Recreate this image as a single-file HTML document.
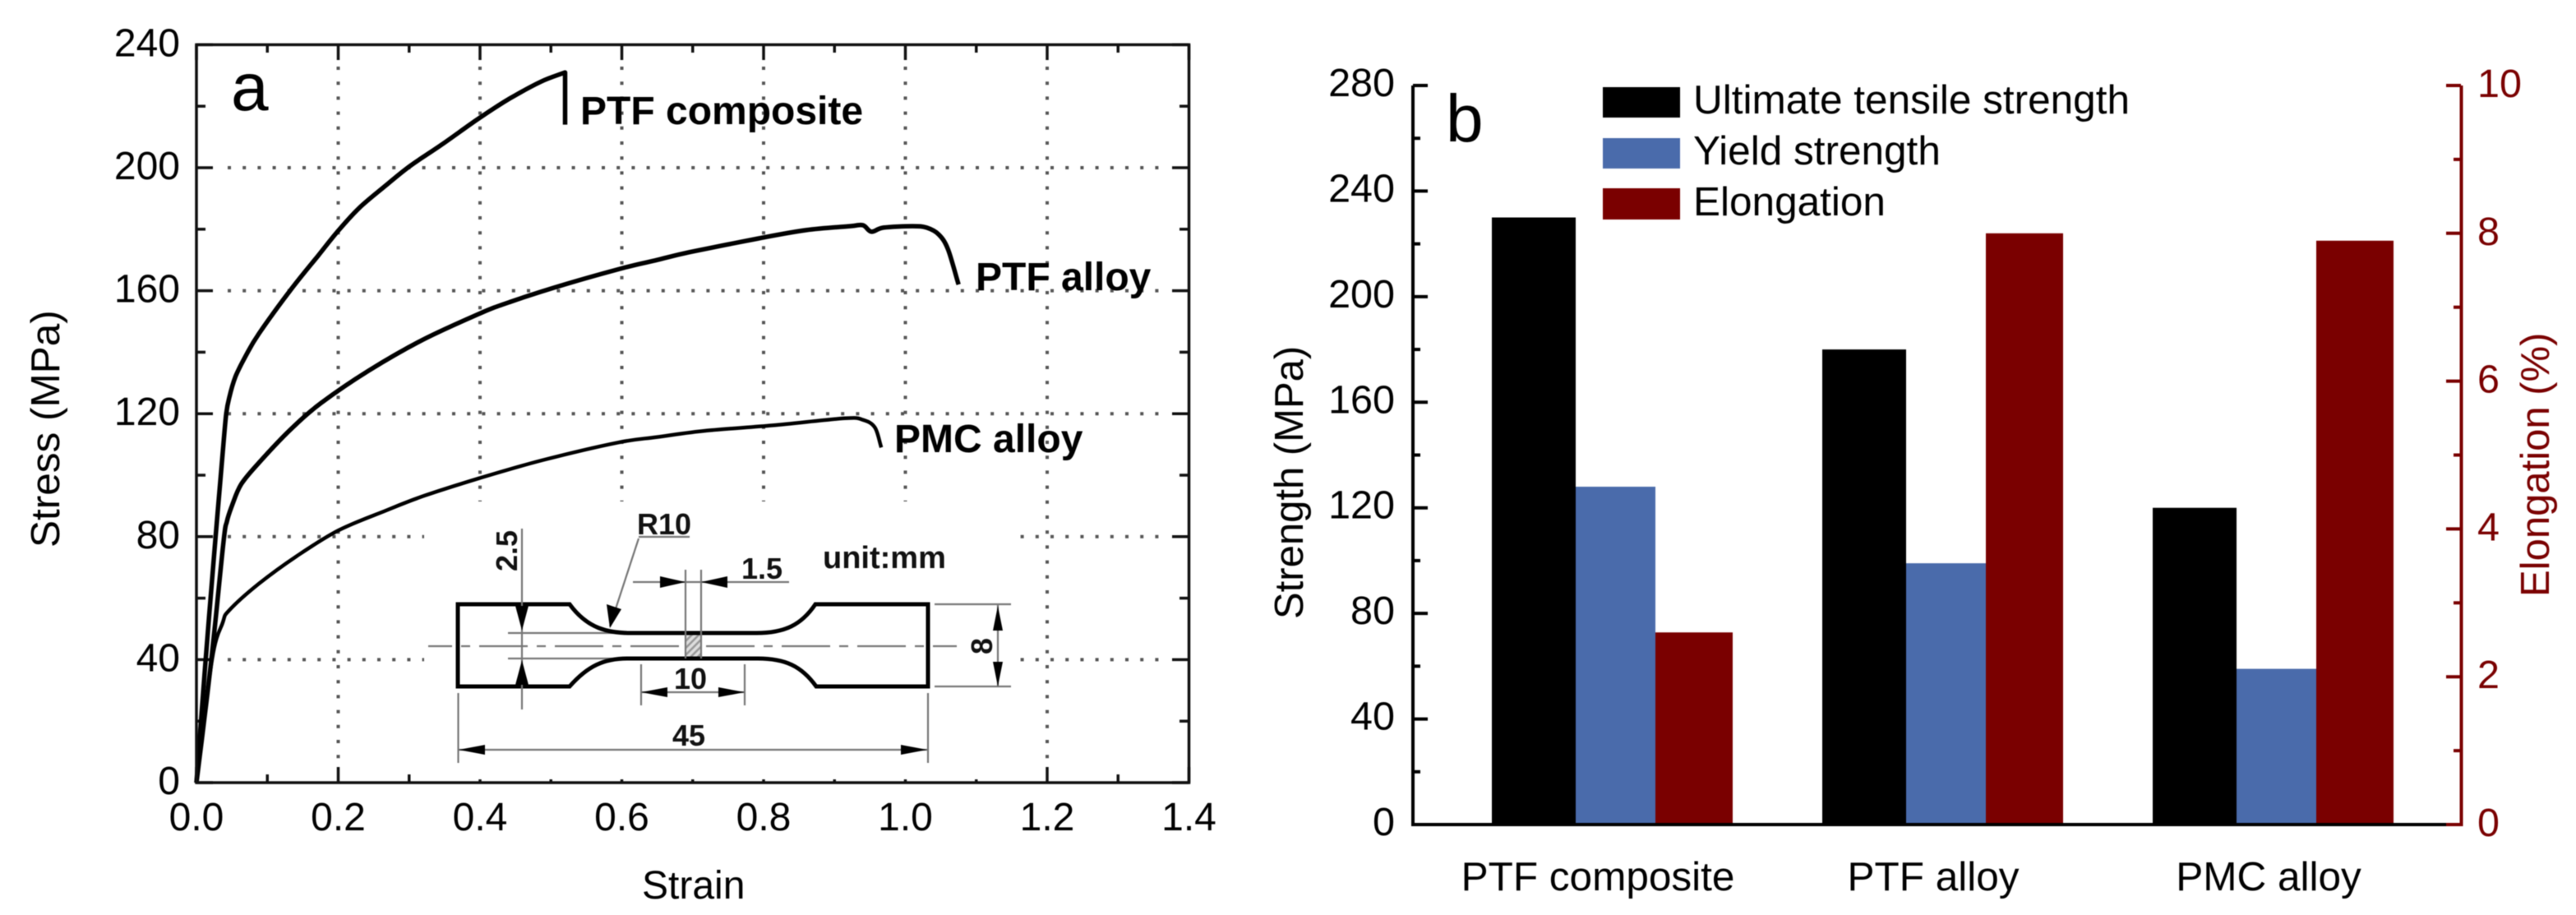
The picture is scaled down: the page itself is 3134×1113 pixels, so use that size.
<!DOCTYPE html>
<html lang="en">
<head>
<meta charset="utf-8">
<title>Tensile properties of PTF composite, PTF alloy and PMC alloy</title>
<style>
  html, body { margin: 0; padding: 0; background: #fff; }
  svg { display: block; filter: blur(0.6px); font-family: "Liberation Sans", Arial, sans-serif; }
  text { fill: #000; }
  .red { fill: #7a0000; }
  .ins { font-size: 36px; font-weight: bold; fill: #111; }
  .dim { stroke: #777; stroke-width: 2.2; fill: none; }
</style>
</head>
<body>
<svg xmlns="http://www.w3.org/2000/svg" width="3134" height="1113" viewBox="0 0 3134 1113">
  <defs>
    <pattern id="hatch" width="6" height="6" patternUnits="userSpaceOnUse" patternTransform="rotate(-45)">
      <rect width="6" height="6" fill="#ddd"/>
      <rect width="6" height="2.5" fill="#999"/>
    </pattern>
  </defs>
  <rect width="3134" height="1113" fill="#fff"/>

  <!-- Panel a -->
  <g id="a-grid"></g>
  <g id="a-ticks"></g>

  <g>
    <rect x="516" y="610" width="721" height="338" fill="#fff"/>
    <path class="dim" d="M521,786 H1164" stroke-dasharray="59 11 11 11" stroke-dashoffset="30"/>
    <path class="dim" d="M618,770 H768 M618,801 H763"/>
    <rect x="834" y="772" width="19" height="28" fill="url(#hatch)"/>
    <path d="M557,735 H693 C715,765 740,770 768,770 H920 C955,770 975,760 992,735 H1129 V835 H993 C975,810 955,801 922,801 H763 C735,801 715,810 693,835 H557 Z" fill="none" stroke="#000" stroke-width="5"/>
    <path class="dim" d="M635,643 V863 M834,693 V801 M853,693 V801 M770,708 H960 M780,808 V858 M906,808 V858 M780,842 H906 M557.500,843 V928 M1129,843 V928 M558,912 H1128 M1137,735 H1230 M1137,835 H1230 M1214,735 V835 M777,653 H839 M777,655 L742,762"/>
    <g fill="#000">
      <polygon points="627,737 643,737 635,767"/>
      <polygon points="627,833 643,833 635,803"/>
      <polygon points="738,735 756,741 742,764"/>
      <polygon points="803,701 834,708 803,715"/>
      <polygon points="885,701 853,708 885,715"/>
      <polygon points="812,836 780,842 812,848"/>
      <polygon points="874,836 906,842 874,848"/>
      <polygon points="590,906 558,912 590,918"/>
      <polygon points="1096,906 1128,912 1096,918"/>
      <polygon points="1208,767 1220,767 1214,737"/>
      <polygon points="1208,805 1220,805 1214,835"/>
    </g>
    <text class="ins" x="775" y="650">R10</text>
    <text class="ins" x="902" y="704">1.5</text>
    <text class="ins" x="820" y="838">10</text>
    <text class="ins" x="818" y="907">45</text>
    <text class="ins" transform="translate(629,695) rotate(-90)">2.5</text>
    <text class="ins" transform="translate(1207,796) rotate(-90)">8</text>
    <text x="1001" y="691" font-size="38" font-weight="bold" style="fill:#111">unit:mm</text>
  </g>

  <g id="a-curves"></g>
  <rect x="239" y="54.400" width="1207.500" height="897.600" fill="none" stroke="#111" stroke-width="3.500"/>
  <g id="a-labels"></g>

  <text x="281" y="134" font-size="82">a</text>
  <text transform="translate(72,666) rotate(-90)" font-size="49.500">Stress (MPa)</text>
  <text x="781" y="1093" font-size="48">Strain</text>
  <text x="706" y="151" font-size="48" font-weight="bold">PTF composite</text>
  <text x="1187" y="353" font-size="48" font-weight="bold">PTF alloy</text>
  <text x="1088" y="550" font-size="48" font-weight="bold">PMC alloy</text>

  <!-- Panel b -->
  <g id="b-bars"></g>
  <path d="M1719,104 V1003 H2980" fill="none" stroke="#000" stroke-width="4"/>
  <path d="M2980,1003 H2994.500 V104" fill="none" stroke="#7a0000" stroke-width="4"/>
  <g id="b-axes"></g>

  <text x="1759" y="172" font-size="82">b</text>
  <text transform="translate(1585,753) rotate(-90)" font-size="49">Strength (MPa)</text>
  <text class="red" transform="translate(3101,726) rotate(-90)" font-size="49">Elongation (%)</text>

  <g>
    <g>
      <rect x="1950" y="106" width="94" height="37" fill="#000"/>
      <text x="2060" y="138" font-size="49.500">Ultimate tensile strength</text>
    </g>
    <g>
      <rect x="1950" y="168" width="94" height="37" fill="#4a6bab"/>
      <text x="2060" y="200" font-size="49.500">Yield strength</text>
    </g>
    <g>
      <rect x="1950" y="229" width="94" height="38" fill="#7a0000"/>
      <text x="2060" y="262" font-size="49.500">Elongation</text>
    </g>
  </g>
</svg>

<script>
// ---- Panel a data ----
const strainMajorTicks = [0, 0.2, 0.4, 0.6, 0.8, 1.0, 1.2, 1.4];
const strainMinorTicks = [0.1, 0.3, 0.5, 0.7, 0.9, 1.1, 1.3];
const strainTickLabels = ['0.0', '0.2', '0.4', '0.6', '0.8', '1.0', '1.2', '1.4'];
const stressMajorTicks = [0, 40, 80, 120, 160, 200, 240];
const stressMinorTicks = [20, 60, 100, 140, 180, 220];
const stressTickLabels = ['0', '40', '80', '120', '160', '200', '240'];
const strainGrid = [0.2, 0.4, 0.6, 0.8, 1.0, 1.2];
const stressGrid = [40, 80, 120, 160, 200];

const ptfCompositeStrain = [0, 0.013, 0.027, 0.038, 0.042, 0.046, 0.055, 0.07, 0.088, 0.132, 0.172, 0.2, 0.23, 0.266, 0.301, 0.346, 0.398, 0.442, 0.486, 0.52, 0.52];
const ptfCompositeStress = [0, 40, 80, 110, 120, 125, 132, 139, 146, 160, 171.5, 179.5, 187, 194, 200.5, 207.5, 216, 222.5, 228, 231, 214];

const ptfAlloyStrain = [0, 0.021, 0.038, 0.043, 0.05, 0.063, 0.088, 0.132, 0.176, 0.243, 0.319, 0.399, 0.443, 0.519, 0.604, 0.65, 0.695, 0.793, 0.86, 0.922, 0.94, 0.952, 0.969, 1.01, 1.03, 1.047, 1.06, 1.075];
const ptfAlloyStress = [0, 40, 78, 85, 90, 97, 104, 114.7, 123.5, 134, 144, 152.5, 156.4, 162, 167.5, 170, 172.5, 177, 179.7, 181, 181.3, 179.2, 180.5, 181, 180.5, 178.3, 173.5, 162];

const pmcAlloyStrain = [0, 0.022, 0.037, 0.046, 0.088, 0.141, 0.2, 0.265, 0.32, 0.399, 0.487, 0.594, 0.65, 0.72, 0.813, 0.915, 0.94, 0.957, 0.966];
const pmcAlloyStress = [0, 40, 52, 56, 64.7, 73.6, 82, 88.3, 93.2, 99, 104.8, 110.6, 112.4, 114.5, 116.2, 118.5, 118, 115.5, 109];

// ---- Panel b data ----
const materialNames = ['PTF composite', 'PTF alloy', 'PMC alloy'];
const ultimateStrength = [230, 180, 120];
const yieldStrength = [128, 99, 59];
const elongationPct = [2.6, 8.0, 7.9];
const strengthMajorTicks = [0, 40, 80, 120, 160, 200, 240, 280];
const strengthMinorTicks = [20, 60, 100, 140, 180, 220, 260];
const strengthTickLabels = ['0', '40', '80', '120', '160', '200', '240', '280'];
const elongationMajorTicks = [0, 2, 4, 6, 8, 10];
const elongationMinorTicks = [1, 3, 5, 7, 9];
const elongationTickLabels = ['0', '2', '4', '6', '8', '10'];

// ---- Axis functions ----
const NS = 'http://www.w3.org/2000/svg';
const xA = v => 239 + v * 862.5;
const yA = v => 952 - v * 3.74;
const yL = v => 1003 - v * (899 / 280);
const yR = v => 1003 - v * 89.9;
const groupX = i => 1815 + 402 * i;
const categoryX = i => 1944 + 408 * i;

function make(tag, attrs, parent) {
  const el = document.createElementNS(NS, tag);
  Object.keys(attrs).forEach(k => el.setAttribute(k, attrs[k]));
  parent.appendChild(el);
  return el;
}

const aGrid = document.getElementById('a-grid');
const aTicks = document.getElementById('a-ticks');
const aCurves = document.getElementById('a-curves');
const aLabels = document.getElementById('a-labels');
const bBars = document.getElementById('b-bars');
const bAxes = document.getElementById('b-axes');

// grid
strainGrid.forEach(v => {
  const el = make('line', { x1: xA(v), x2: xA(v), y1: 81, y2: 925, stroke: '#555', 'stroke-width': 4, 'stroke-dasharray': '4 14.2' }, aGrid);
  
  
});
stressGrid.forEach(v => {
  const el = make('line', { x1: 277, x2: 1420, y1: yA(v), y2: yA(v), stroke: '#555', 'stroke-width': 4, 'stroke-dasharray': '4 14.2' }, aGrid);
  
  
});

// ticks panel a
function aTickX(v, len) {
  const bottom = make('line', { x1: xA(v), x2: xA(v), y1: 952, y2: 952 - len, stroke: '#111', 'stroke-width': 3.5 }, aTicks);
  
  
  const top = make('line', { x1: xA(v), x2: xA(v), y1: 54, y2: 54 + len, stroke: '#111', 'stroke-width': 3.5 }, aTicks);
  
  
}
function aTickY(v, len) {
  const left = make('line', { x1: 239, x2: 239 + len, y1: yA(v), y2: yA(v), stroke: '#111', 'stroke-width': 3.5 }, aTicks);
  
  
  const right = make('line', { x1: 1446, x2: 1446 - len, y1: yA(v), y2: yA(v), stroke: '#111', 'stroke-width': 3.5 }, aTicks);
  
  
}
strainMajorTicks.forEach(v => aTickX(v, 19));
strainMinorTicks.forEach(v => aTickX(v, 10));
stressMajorTicks.forEach(v => aTickY(v, 20));
stressMinorTicks.forEach(v => aTickY(v, 11));

strainMajorTicks.forEach((v, i) => {
  const t = make('text', { x: xA(v), y: 1010, 'font-size': 48, 'text-anchor': 'middle' }, aLabels);
  
  
  t.textContent = strainTickLabels[i];
});
stressMajorTicks.forEach((v, i) => {
  const t = make('text', { x: 219, y: yA(v) + 14, 'font-size': 48, 'text-anchor': 'end' }, aLabels);
  
  
  t.textContent = stressTickLabels[i];
});

// curves: smooth through the read points; a vertical drop stays a straight segment
function curvePath(xs, ys) {
  const px = xs.map(xA);
  const py = ys.map(yA);
  const n = px.length;
  const tangent = i => {
    const a = Math.max(i - 1, 0);
    const b = Math.min(i + 1, n - 1);
    if (Math.abs(px[b] - px[i]) < 0.5) return [(px[i] - px[a]) / 3, (py[i] - py[a]) / 3];
    if (Math.abs(px[i] - px[a]) < 0.5) return [0, 0];
    return [(px[b] - px[a]) / 6, (py[b] - py[a]) / 6];
  };
  let d = 'M' + px[0].toFixed(1) + ',' + py[0].toFixed(1);
  for (let i = 0; i < n - 1; i++) {
    if (Math.abs(px[i + 1] - px[i]) < 0.5) {
      d += ' L' + px[i + 1].toFixed(1) + ',' + py[i + 1].toFixed(1);
      continue;
    }
    const t0 = tangent(i);
    const t1 = tangent(i + 1);
    d += ' C' + (px[i] + t0[0]).toFixed(1) + ',' + (py[i] + t0[1]).toFixed(1) + ' ' +
      (px[i + 1] - t1[0]).toFixed(1) + ',' + (py[i + 1] - t1[1]).toFixed(1) + ' ' +
      px[i + 1].toFixed(1) + ',' + py[i + 1].toFixed(1);
  }
  return d;
}
const curveComposite = make('path', { d: curvePath(ptfCompositeStrain, ptfCompositeStress), fill: 'none', stroke: '#000', 'stroke-width': 5.5, 'stroke-linejoin': 'round' }, aCurves);


const curveAlloy = make('path', { d: curvePath(ptfAlloyStrain, ptfAlloyStress), fill: 'none', stroke: '#000', 'stroke-width': 5.5, 'stroke-linejoin': 'round' }, aCurves);


const curvePmc = make('path', { d: curvePath(pmcAlloyStrain, pmcAlloyStress), fill: 'none', stroke: '#000', 'stroke-width': 4.5, 'stroke-linejoin': 'round' }, aCurves);



// bars
materialNames.forEach((name, i) => {
  const g = groupX(i);
  const uts = make('rect', { x: g, y: yL(ultimateStrength[i]), width: 102, height: 1003 - yL(ultimateStrength[i]), fill: '#000' }, bBars);
  
  
  const ys = make('rect', { x: g + 102, y: yL(yieldStrength[i]), width: 97, height: 1003 - yL(yieldStrength[i]), fill: '#4a6bab' }, bBars);
  
  
  const el = make('rect', { x: g + 199, y: yR(elongationPct[i]), width: 94, height: 1003 - yR(elongationPct[i]), fill: '#7a0000' }, bBars);
  
  
  const lab = make('text', { x: categoryX(i), y: 1083, 'font-size': 49.5, 'text-anchor': 'middle' }, bAxes);
  
  
  lab.textContent = name;
});

// axes panel b
function bTickLeft(v, len) {
  const el = make('line', { x1: 1719, x2: 1719 + len, y1: yL(v), y2: yL(v), stroke: '#000', 'stroke-width': 4 }, bAxes);
  
  
}
function bTickRight(v, len) {
  const el = make('line', { x1: 2994, x2: 2994 - len, y1: yR(v), y2: yR(v), stroke: '#7a0000', 'stroke-width': 4 }, bAxes);
  
  
}
strengthMajorTicks.forEach(v => bTickLeft(v, 18));
strengthMinorTicks.forEach(v => bTickLeft(v, 9));
elongationMajorTicks.forEach(v => bTickRight(v, 18));
elongationMinorTicks.forEach(v => bTickRight(v, 9));

strengthMajorTicks.forEach((v, i) => {
  const t = make('text', { x: 1697, y: yL(v) + 13, 'font-size': 48.5, 'text-anchor': 'end' }, bAxes);
  
  
  t.textContent = strengthTickLabels[i];
});
elongationMajorTicks.forEach((v, i) => {
  const t = make('text', { x: 3014, y: yR(v) + 14, 'font-size': 48.5, class: 'red' }, bAxes);
  
  
  t.textContent = elongationTickLabels[i];
});
</script>
</body>
</html>
